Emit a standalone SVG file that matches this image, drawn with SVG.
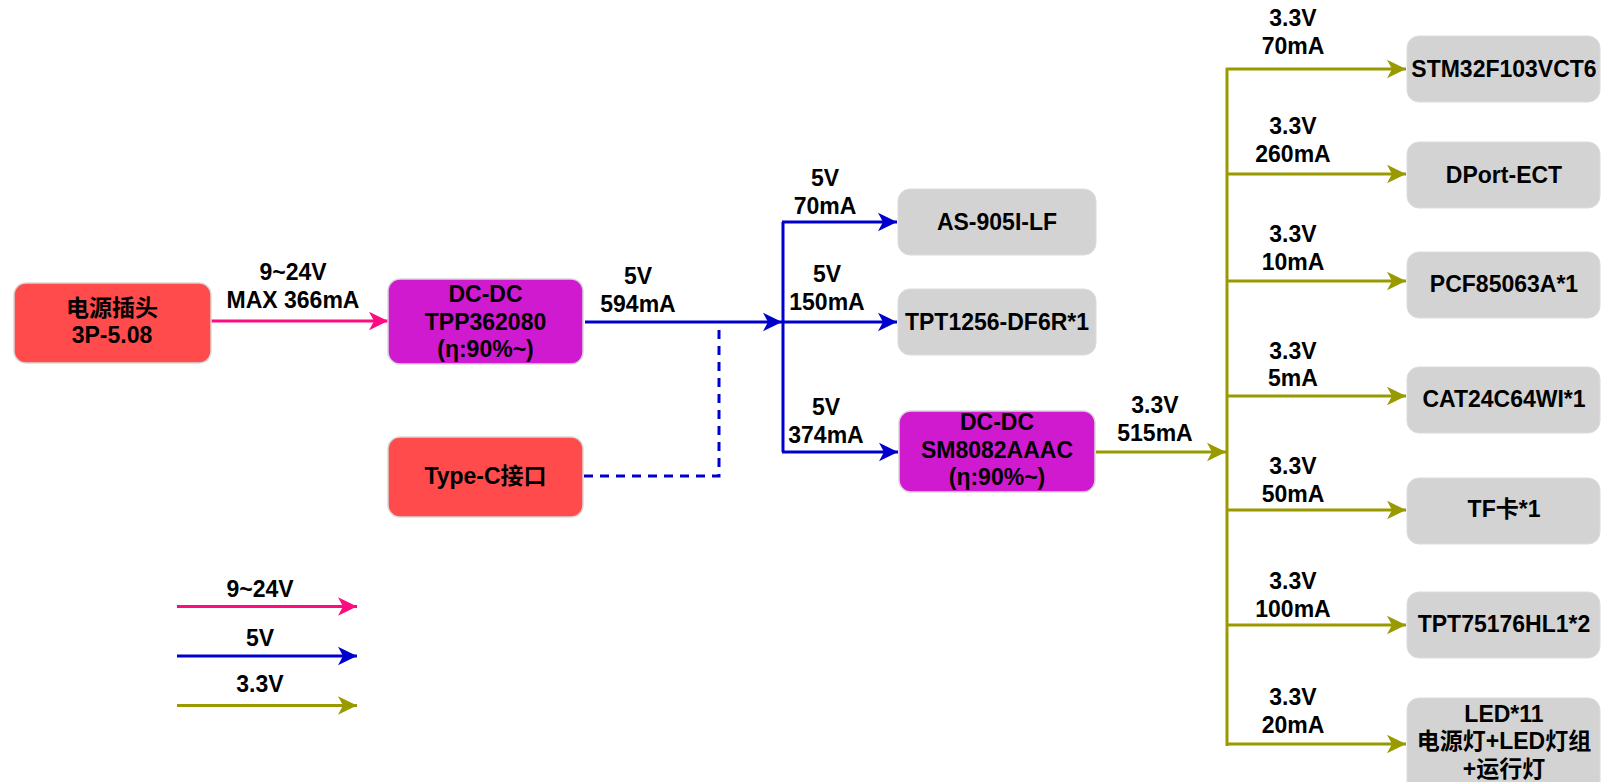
<svg xmlns="http://www.w3.org/2000/svg" width="1601" height="782" viewBox="0 0 1601 782">
<style>
  text { font-family: "Liberation Sans", Arial, "Noto Sans CJK SC", sans-serif; font-weight: bold; font-size: 23px; fill: #000; text-anchor: middle; }
  .red { fill: #FF4B4B; stroke: #d8d8d8; stroke-width: 1.5; }
  .pur { fill: #CF1ACF; stroke: #d8d8d8; stroke-width: 1.5; }
  .gry { fill: #D3D3D3; stroke: #dcdcdc; stroke-width: 1; }
  .pk { fill: none; stroke: #FF0A80; stroke-width: 3; }
  .bl { fill: none; stroke: #0000CC; stroke-width: 3; }
  .ol { fill: none; stroke: #999900; stroke-width: 3; }
  .dash { stroke-dasharray: 9 7; }
</style>
<defs>
  <marker id="aPk" markerUnits="userSpaceOnUse" markerWidth="22" markerHeight="22" viewBox="-20 -10 22 20" refX="0" refY="0" orient="auto">
    <path d="M0,0 L-19,-9.3 L-14,0 L-19,9.3 Z" fill="#FF0A80"/>
  </marker>
  <marker id="aBl" markerUnits="userSpaceOnUse" markerWidth="22" markerHeight="22" viewBox="-20 -10 22 20" refX="0" refY="0" orient="auto">
    <path d="M0,0 L-19,-9.3 L-14,0 L-19,9.3 Z" fill="#0000CC"/>
  </marker>
  <marker id="aOl" markerUnits="userSpaceOnUse" markerWidth="22" markerHeight="22" viewBox="-20 -10 22 20" refX="0" refY="0" orient="auto">
    <path d="M0,0 L-19,-9.3 L-14,0 L-19,9.3 Z" fill="#999900"/>
  </marker>
</defs>
<rect width="1601" height="782" fill="#fff"/>

<g id="connectors">
  <path class="pk" d="M211,321 L388,321" marker-end="url(#aPk)"/>
  <path class="bl" d="M585,322 L782,322" marker-end="url(#aBl)"/>
  <path class="bl dash" d="M584,476 L719,476 L719,326"/>
  <path class="bl" d="M783,222 L783,452"/>
  <path class="bl" d="M782,222 L897,222" marker-end="url(#aBl)"/>
  <path class="bl" d="M782,322 L897,322" marker-end="url(#aBl)"/>
  <path class="bl" d="M782,452 L898,452" marker-end="url(#aBl)"/>
  <path class="ol" d="M1096,452 L1226,452" marker-end="url(#aOl)"/>
  <path class="ol" d="M1227,68 L1227,746"/>
  <path class="ol" d="M1226,69 L1406,69" marker-end="url(#aOl)"/>
  <path class="ol" d="M1226,174 L1406,174" marker-end="url(#aOl)"/>
  <path class="ol" d="M1226,281 L1406,281" marker-end="url(#aOl)"/>
  <path class="ol" d="M1226,396 L1406,396" marker-end="url(#aOl)"/>
  <path class="ol" d="M1226,510 L1406,510" marker-end="url(#aOl)"/>
  <path class="ol" d="M1226,625 L1406,625" marker-end="url(#aOl)"/>
  <path class="ol" d="M1226,744 L1406,744" marker-end="url(#aOl)"/>
  <g id="edge-labels">
    <text x="293" y="280">9~24V</text>
    <text x="293" y="308">MAX 366mA</text>
    <text x="638" y="284">5V</text>
    <text x="638" y="311.5">594mA</text>
    <text x="825" y="186">5V</text>
    <text x="825" y="213.5">70mA</text>
    <text x="827" y="282">5V</text>
    <text x="827" y="310">150mA</text>
    <text x="826" y="415">5V</text>
    <text x="826" y="442.5">374mA</text>
    <text x="1155" y="413">3.3V</text>
    <text x="1155" y="441">515mA</text>
    <text x="1293" y="26">3.3V</text>
    <text x="1293" y="53.5">70mA</text>
    <text x="1293" y="133.5">3.3V</text>
    <text x="1293" y="161.5">260mA</text>
    <text x="1293" y="241.5">3.3V</text>
    <text x="1293" y="269.5">10mA</text>
    <text x="1293" y="358.5">3.3V</text>
    <text x="1293" y="386">5mA</text>
    <text x="1293" y="474">3.3V</text>
    <text x="1293" y="501.5">50mA</text>
    <text x="1293" y="589">3.3V</text>
    <text x="1293" y="616.5">100mA</text>
    <text x="1293" y="705">3.3V</text>
    <text x="1293" y="732.5">20mA</text>
  </g>
</g>

<g id="legend">
  <path class="pk" d="M177,606.5 L357,606.5" marker-end="url(#aPk)"/>
  <text x="260" y="596.5">9~24V</text>
  <path class="bl" d="M177,656 L357,656" marker-end="url(#aBl)"/>
  <text x="260" y="645.5">5V</text>
  <path class="ol" d="M177,705.5 L357,705.5" marker-end="url(#aOl)"/>
  <text x="260" y="691.5">3.3V</text>
</g>

<g id="node-power-plug">
  <rect class="red" x="14" y="283" width="197" height="80" rx="12"/>
  <text x="112" y="316">电源插头</text>
  <text x="112" y="343">3P-5.08</text>
</g>
<g id="node-tpp362080">
  <rect class="pur" x="388" y="279" width="195" height="85" rx="12"/>
  <text x="485.5" y="302">DC-DC</text>
  <text x="485.5" y="329.5">TPP362080</text>
  <text x="485.5" y="357">(η:90%~)</text>
</g>
<g id="node-typec">
  <rect class="red" x="388" y="437" width="195" height="80" rx="12"/>
  <text x="485.5" y="484">Type-C接口</text>
</g>
<g id="node-as905">
  <rect class="gry" x="898" y="189" width="198" height="66" rx="12"/>
  <text x="997" y="230">AS-905I-LF</text>
</g>
<g id="node-tpt1256">
  <rect class="gry" x="898" y="289" width="198" height="66" rx="12"/>
  <text x="997" y="330">TPT1256-DF6R*1</text>
</g>
<g id="node-sm8082">
  <rect class="pur" x="899" y="411" width="196" height="81" rx="12"/>
  <text x="997" y="430">DC-DC</text>
  <text x="997" y="457.5">SM8082AAAC</text>
  <text x="997" y="485">(η:90%~)</text>
</g>
<g id="node-stm32">
  <rect class="gry" x="1407" y="36" width="193" height="66" rx="12"/>
  <text x="1504" y="76.7">STM32F103VCT6</text>
</g>
<g id="node-dport">
  <rect class="gry" x="1407" y="142" width="193" height="66" rx="12"/>
  <text x="1504" y="182.7">DPort-ECT</text>
</g>
<g id="node-pcf">
  <rect class="gry" x="1407" y="252" width="193" height="66" rx="12"/>
  <text x="1504" y="292.3">PCF85063A*1</text>
</g>
<g id="node-cat">
  <rect class="gry" x="1407" y="367" width="193" height="66" rx="12"/>
  <text x="1504" y="406.7">CAT24C64WI*1</text>
</g>
<g id="node-tf">
  <rect class="gry" x="1407" y="478" width="193" height="66" rx="12"/>
  <text x="1504" y="517.3">TF卡*1</text>
</g>
<g id="node-tpt75176">
  <rect class="gry" x="1407" y="592" width="193" height="66" rx="12"/>
  <text x="1504" y="632.3">TPT75176HL1*2</text>
</g>
<g id="node-led">
  <rect class="gry" x="1407" y="698" width="193" height="96" rx="12"/>
  <text x="1504" y="721.7">LED*11</text>
  <text x="1504" y="749">电源灯+LED灯组</text>
  <text x="1504" y="776.7">+运行灯</text>
</g>
</svg>
